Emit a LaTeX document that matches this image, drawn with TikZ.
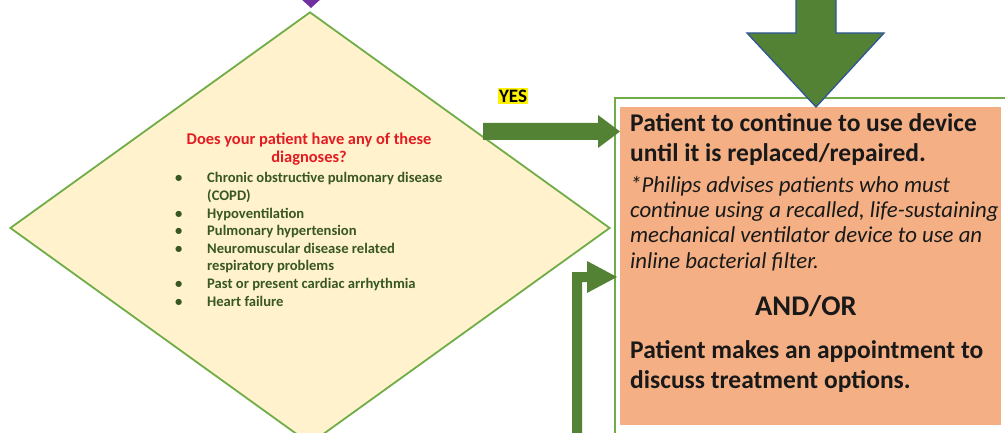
\documentclass[tikz,border=0pt]{standalone}
\usepackage{fontspec}
\setmainfont{Carlito}
\usetikzlibrary{shapes.geometric,positioning}

\definecolor{arrowgreen}{HTML}{548235}
\definecolor{arrowedge}{HTML}{2F5597}
\definecolor{diafill}{HTML}{FFF2CC}
\definecolor{diaedge}{HTML}{70AD47}
\definecolor{boxorange}{HTML}{F4B084}
\definecolor{titlered}{HTML}{E31B23}
\definecolor{listgreen}{HTML}{385723}
\definecolor{tipviolet}{HTML}{7030A0}

\begin{document}
\begin{tikzpicture}[x=1pt, y=-1pt,
  blockarrow/.style={fill=arrowgreen, draw=none},
  boldtext/.style={anchor=base west, inner sep=0pt, align=left, text=black!90,
    font=\bfseries\fontsize{25.5}{30}\selectfont},
  notetext/.style={anchor=base west, inner sep=0pt, align=left, text=black!90,
    font=\itshape\fontsize{22.8}{25.3}\selectfont}]
  \clip (0,0) rectangle (1005,433);
  % tip of the arrow coming from above
  \fill[tipviolet] (300,-2) -- (322,-2) -- (311,8) -- cycle;
  % decision diamond
  \node[diamond, draw=diaedge, line width=1.8pt, fill=diafill, inner sep=0pt,
    minimum width=600pt, minimum height=432pt] (ask) at (310,228) {};
  % base of a multi-line node = its last line
  \node[anchor=base, inner sep=0pt, align=center, text=titlered,
    font=\bfseries\fontsize{16.4}{18}\selectfont] (asktitle) at (309,163)
    {Does your patient have any of these\\diagnoses?};
  \node[anchor=base west, inner sep=0pt, text=listgreen,
    font=\bfseries\fontsize{14.6}{17.6}\selectfont] (asklist) at (175,183)
    {\begin{tabular}[t]{@{}p{32pt}@{}l@{}}
      \textbullet & Chronic obstructive pulmonary disease\\
                  & (COPD)\\
      \textbullet & Hypoventilation\\
      \textbullet & Pulmonary hypertension\\
      \textbullet & Neuromuscular disease related\\
                  & respiratory problems\\
      \textbullet & Past or present cardiac arrhythmia\\
      \textbullet & Heart failure
    \end{tabular}};
  % action box
  \draw[diaedge, line width=1.2pt] (615,98) rectangle (1012,440);
  \node[fill=boxorange, inner sep=0pt, anchor=north west,
    minimum width=381pt, minimum height=318pt] (act) at (620,107) {};
  \node[boldtext] (actkeep) at (630,162)
    {Patient to continue to use device\\until it is replaced/repaired.};
  \node[notetext] (actnote) at (630,268)
    {*Philips advises patients who must\\continue using a recalled, life-sustaining\\
     mechanical ventilator device to use an\\inline bacterial filter.};
  \node[boldtext, anchor=base, font=\bfseries\fontsize{28.5}{30}\selectfont]
    (actor) at (806,315) {AND/OR};
  \node[boldtext] (actvisit) at (630,388)
    {Patient makes an appointment to\\discuss treatment options.};
  % arrow from above into the box
  \draw[fill=arrowgreen, draw=arrowedge, line width=1.3pt]
    (796,-5) -- (796,33) -- (747,33) -- (act.north -| 816,0) -- (884,33)
    -- (836,33) -- (836,-5) -- cycle;
  % YES arrow
  \node[fill=yellow, inner sep=1.5pt, font=\bfseries\fontsize{19}{20}\selectfont]
    (yes) at (513,96) {YES};
  \fill[arrowgreen] (483,123) -- (598,123) -- (598,115) -- (act.west |- 0,131.5)
    -- (598,148) -- (598,140) -- (483,140) -- cycle;
  % elbow arrow from below
  \fill[arrowgreen] (572,440) -- (572,272) -- (587,272) -- (587,261)
    -- (617,277) -- (587,293) -- (587,282) -- (582,282) -- (582,440) -- cycle;
\end{tikzpicture}
\end{document}
